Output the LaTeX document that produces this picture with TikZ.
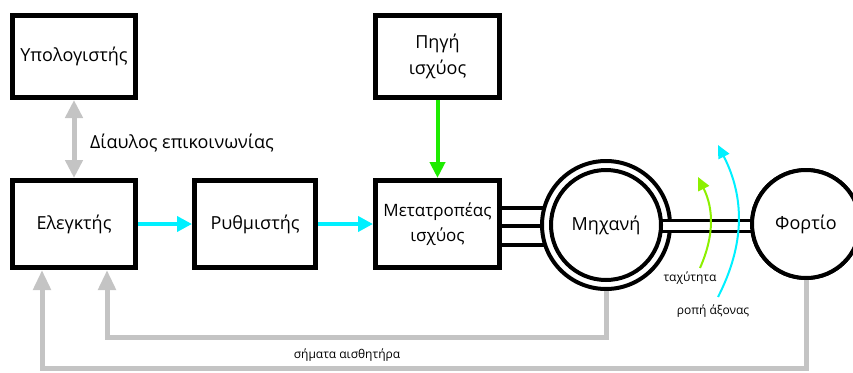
\documentclass[tikz,border=0pt]{standalone}
\usepackage{fontspec}
\setmainfont{Open Sans}
\usetikzlibrary{arrows.meta}
\definecolor{fbgray}{RGB}{196,196,196}
\definecolor{cyanA}{RGB}{0,240,255}
\definecolor{greenA}{RGB}{30,235,0}
\definecolor{limeA}{RGB}{140,240,0}
\begin{document}
\begin{tikzpicture}[x=1pt,y=-1pt,
  bigfont/.style={font=\fontsize{18}{26}\selectfont},
  blk/.style={draw,line width=5pt,rectangle,inner sep=0pt,bigfont,align=center},
  small/.style={font=\fontsize{12}{14}\selectfont,inner sep=0pt},
  grayarrow/.style={draw=fbgray,line width=5pt,-{Triangle[length=20pt,width=17pt]}},
  cyanarrow/.style={draw=cyanA,line width=4pt,-{Triangle[length=15pt,width=15pt]}},
  curvarrow/.style={line width=2pt,-{Triangle[length=13pt,width=12pt]}}]
\useasboundingbox (0,0) rectangle (853,372);
% boxes
\node[blk,minimum width=123pt,minimum height=82pt] (comp) at (74,56.5) {Υπολογιστής};
\node[blk,minimum width=124pt,minimum height=82pt] (src) at (437.5,56.5) {Πηγή\\ισχύος};
\node[blk,minimum width=123pt,minimum height=87pt] (ctrl) at (74,224) {Ελεγκτής};
\node[blk,minimum width=121pt,minimum height=87pt] (reg) at (255,224) {Ρυθμιστής};
\node[blk,minimum width=124pt,minimum height=87pt,font=\fontsize{17}{25}\selectfont] (conv) at (437.5,224) {Μετατροπέας\\ισχύος};
% three phase lines
\coordinate (mc) at (606,225);
\foreach \yy in {208,226,245}
  \draw[line width=4pt] (conv.east |- 0,\yy) -- (mc |- 0,\yy);
% motor outer ring
\node[draw,circle,line width=4pt,fill=white,minimum size=128pt,inner sep=0pt] (motorout) at (mc) {};
% load
\node[draw,circle,line width=4pt,fill=white,minimum size=108pt,inner sep=0pt] (load) at (806,224) {};
% shaft
\draw[line width=3pt,fill=white] (640,220) rectangle (load.center |- 0,231);
\node[draw,circle,line width=4pt,fill=white,minimum size=110pt,inner sep=0pt,bigfont] (motor) at (mc) {Μηχανή};
\node[draw,circle,line width=4pt,fill=white,minimum size=108pt,inner sep=0pt,bigfont] (loadtxt) at (load) {Φορτίο};
% communication
\draw[draw=fbgray,line width=5pt,{Triangle[length=18pt,width=17pt]}-{Triangle[length=18pt,width=17pt]}] (comp.south) -- (ctrl.north);
\node[anchor=west,bigfont,inner sep=0pt] (bus) at (90,143) {Δίαυλος επικοινωνίας};
% power
\draw[draw=greenA,line width=4pt,-{Triangle[length=16pt,width=15pt]}] (src.south) -- (conv.north);
% control chain
\draw[cyanarrow] (ctrl.east) -- (reg.west);
\draw[cyanarrow] (reg.east) -- (conv.west);
% feedback
\draw[grayarrow] (motorout.south) -- (606,337) -- (107,337) -- (ctrl.south -| 107,0);
\draw[grayarrow] (load.south) -- (806,368) -- (42,368) -- (ctrl.south -| 42,0);
\node[small] (sens) at (347,355) {σήματα αισθητήρα};
% rotation arrows
\coordinate (g1) at (700,268);
\coordinate (g2) at (698,177);
\draw[curvarrow,draw=limeA] (g1) to[bend right=25] (g2);
\coordinate (c1) at (718,297);
\coordinate (c2) at (718,145);
\draw[curvarrow,draw=cyanA] (c1) to[bend right=27] (c2);
\node[small] (speed) at (690,278) {ταχύτητα};
\node[small] (torque) at (713,311) {ροπή άξονας};
\end{tikzpicture}
\end{document}
